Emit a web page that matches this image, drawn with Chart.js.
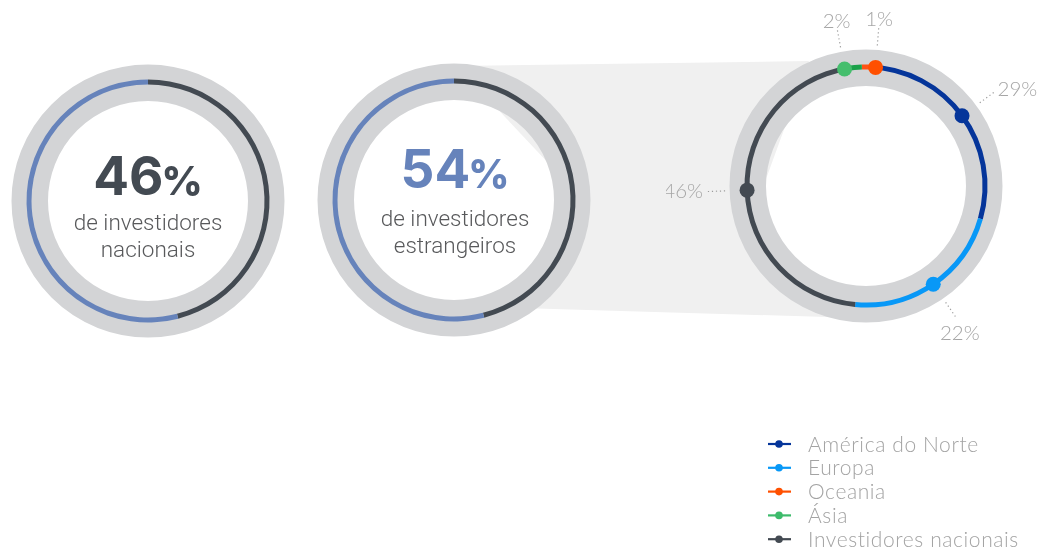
<!DOCTYPE html>
<html><head><meta charset="utf-8">
<script src="https://cdn.jsdelivr.net/npm/chart.js@4.4.1/dist/chart.umd.min.js"></script>
<style>
html,body{margin:0;padding:0;width:1053px;height:549px;overflow:hidden;background:#fff;}
#stage{position:relative;width:1053px;height:549px;overflow:hidden;}
canvas{position:absolute;}
svg{position:absolute;left:0;top:0;}
</style></head><body>
<div id="stage">
<svg id="bg" width="1053" height="549"><polygon points="457,66 809,61 743,242 860,318 520,308 583,200" fill="#f0f0f0"/></svg>
<canvas id="c1" width="300" height="300" style="left:-2px;top:51px;width:300px;height:300px"></canvas>
<canvas id="c2" width="300" height="300" style="left:304px;top:50px;width:300px;height:300px"></canvas>
<canvas id="c3" width="400" height="400" style="left:666px;top:-14px;width:400px;height:400px"></canvas>
<svg id="fg" width="1053" height="549" style="pointer-events:none"></svg>
</div>
<script>
// ---- data ----
const overviewLabels = ['Investidores nacionais', 'Investidores estrangeiros'];
const overviewValues = [46, 54];
const overviewCaptions = [['de investidores', 'nacionais'], ['de investidores', 'estrangeiros']];
const regionLabels = ['Oceania', 'América do Norte', 'Europa', 'Investidores nacionais', 'Ásia'];
const regionValues = [1, 29, 22, 46, 2];
const legendLabels = ['América do Norte', 'Europa', 'Oceania', 'Ásia', 'Investidores nacionais'];

// ---- style ----
const GRAY_RING = '#d3d4d6', DARK = '#434a52', BLUE = '#6683bb';
const segColor = {'Oceania':'#ff5214','América do Norte':'#05359a','Europa':'#0898f7','Investidores nacionais':DARK,'Ásia':'#1ba14a'};
const dotColor = {'Oceania':'#ff5000','América do Norte':'#05359a','Europa':'#0898f7','Investidores nacionais':DARK,'Ásia':'#45be6d'};
const legendColor = {'Oceania':'#ff5000','América do Norte':'#05359a','Europa':'#0898f7','Investidores nacionais':DARK,'Ásia':'#3dbb6b'};
const LABEL_GRAY = '#a6a6a6';
const OUTER_R = 121.5, INNER_R = 116.5;

const ringBg = {
  id:'ringBg',
  beforeDatasetsDraw(chart){
    const a = chart.getDatasetMeta(0).data[0];
    const ctx = chart.ctx;
    ctx.save();
    ctx.beginPath();
    ctx.arc(a.x, a.y, 118.25, 0, Math.PI*2);
    ctx.lineWidth = 36.5;
    ctx.strokeStyle = GRAY_RING;
    ctx.stroke();
    ctx.restore();
  }
};

function baseOpts(rot){
  return {responsive:false, animation:false, events:[], radius:OUTER_R,
    cutout:(INNER_R/OUTER_R*100).toFixed(3)+'%', rotation:rot,
    layout:{padding:0},
    plugins:{legend:{display:false}, tooltip:{enabled:false}}};
}

new Chart(document.getElementById('c1'), {type:'doughnut',
  data:{labels:overviewLabels, datasets:[{data:overviewValues, backgroundColor:[DARK, BLUE], borderWidth:0}]},
  options:baseOpts(0), plugins:[ringBg]});
new Chart(document.getElementById('c2'), {type:'doughnut',
  data:{labels:overviewLabels, datasets:[{data:overviewValues, backgroundColor:[DARK, BLUE], borderWidth:0}]},
  options:baseOpts(0), plugins:[ringBg]});

const dotsAndLabels = {
  id:'dotsAndLabels',
  afterDatasetsDraw(chart){
    const meta = chart.getDatasetMeta(0);
    const ctx = chart.ctx;
    const n = meta.data.length;
    const mids = meta.data.map(el => (el.startAngle + el.endAngle)/2);
    const minSep = 15*Math.PI/180;
    for (let i=0;i<n;i++){
      const j=(i+1)%n;
      let d = mids[j]-mids[i];
      while (d < 0) d += Math.PI*2;
      while (d > Math.PI*2) d -= Math.PI*2;
      if (d < minSep){ const s=(minSep-d)/2; mids[i]-=s; mids[j]+=s; }
    }
    const cx = meta.data[0].x, cy = meta.data[0].y, r = 119;
    ctx.save();
    meta.data.forEach((el, i) => {
      const a = mids[i];
      const cs = Math.cos(a), sn = Math.sin(a);
      ctx.beginPath();
      ctx.setLineDash([1.2, 2.8]);
      ctx.strokeStyle = '#9c9c9c';
      ctx.lineWidth = 1.2;
      ctx.moveTo(cx + cs*141, cy + sn*141);
      ctx.lineTo(cx + cs*159, cy + sn*159);
      ctx.stroke();
      ctx.setLineDash([]);
      ctx.beginPath();
      ctx.arc(cx + cs*r, cy + sn*r, 7.5, 0, Math.PI*2);
      ctx.fillStyle = dotColor[regionLabels[i]];
      ctx.fill();
      ctx.font = '300 20.5px Lato, "Open Sans", sans-serif';
      ctx.fillStyle = LABEL_GRAY;
      let lx, ly;
      if (cs > 0.6){ lx = cx + cs*163; ly = cy + sn*163; ctx.textAlign='left'; ctx.textBaseline='middle'; }
      else if (cs < -0.6){ lx = cx + cs*163; ly = cy + sn*163; ctx.textAlign='right'; ctx.textBaseline='middle'; }
      else if (sn < 0){ lx = cx + cs*163; ly = cy + sn*163 + 2; ctx.textAlign='center'; ctx.textBaseline='alphabetic'; }
      else { lx = cx + cs*166; ly = cy + sn*166; ctx.textAlign='center'; ctx.textBaseline='top'; }
      ctx.fillText(regionValues[i] + '%', lx, ly);
    });
    ctx.restore();
  }
};

new Chart(document.getElementById('c3'), {type:'doughnut',
  data:{labels:regionLabels, datasets:[{data:regionValues, backgroundColor:regionLabels.map(l=>segColor[l]), borderWidth:0}]},
  options:baseOpts(-2), plugins:[ringBg, dotsAndLabels]});

// ---- text overlay ----
const NS='http://www.w3.org/2000/svg';
const fg=document.getElementById('fg');
function txt(x,y,str,attrs){
  const t=document.createElementNS(NS,'text');
  t.setAttribute('x',x); t.setAttribute('y',y);
  for (const k in attrs) t.setAttribute(k, attrs[k]);
  t.textContent=str; fg.appendChild(t); return t;
}
function bigNumber(cx, by, value, color){
  const t=txt(cx, by, '', {'text-anchor':'middle','font-family':'Inter, "Open Sans", sans-serif','font-weight':'700','fill':color});
  const a=document.createElementNS(NS,'tspan'); a.setAttribute('font-size','53'); a.textContent=String(value);
  const b=document.createElementNS(NS,'tspan'); b.setAttribute('font-size','40'); b.setAttribute('font-weight','800'); b.setAttribute('dx','-2'); b.textContent='%';
  t.appendChild(a); t.appendChild(b);
}
const capStyle={'text-anchor':'middle','font-family':'Roboto, sans-serif','font-weight':'300','font-size':'22.5','fill':'#58595b'};
bigNumber(148, 195, overviewValues[0], DARK);
txt(148, 229.5, overviewCaptions[0][0], capStyle);
txt(148, 257, overviewCaptions[0][1], capStyle);
bigNumber(455, 188, overviewValues[1], BLUE);
txt(455, 226, overviewCaptions[1][0], capStyle);
txt(455, 253, overviewCaptions[1][1], capStyle);

// legend
legendLabels.forEach((lab, i) => {
  const y = 444 + i*23.8;
  const ln=document.createElementNS(NS,'line');
  ln.setAttribute('x1',768); ln.setAttribute('x2',791); ln.setAttribute('y1',y); ln.setAttribute('y2',y);
  ln.setAttribute('stroke',legendColor[lab]); ln.setAttribute('stroke-width','2.2');
  fg.appendChild(ln);
  const c=document.createElementNS(NS,'circle');
  c.setAttribute('cx',779); c.setAttribute('cy',y); c.setAttribute('r',3.8); c.setAttribute('fill',legendColor[lab]);
  fg.appendChild(c);
  txt(808, y+7.5, lab, {'font-family':'Lato, "Open Sans", sans-serif','font-weight':'300','font-size':'21','letter-spacing':'0.6','fill':'#a3a3a3'});
});
</script>
</body></html>
